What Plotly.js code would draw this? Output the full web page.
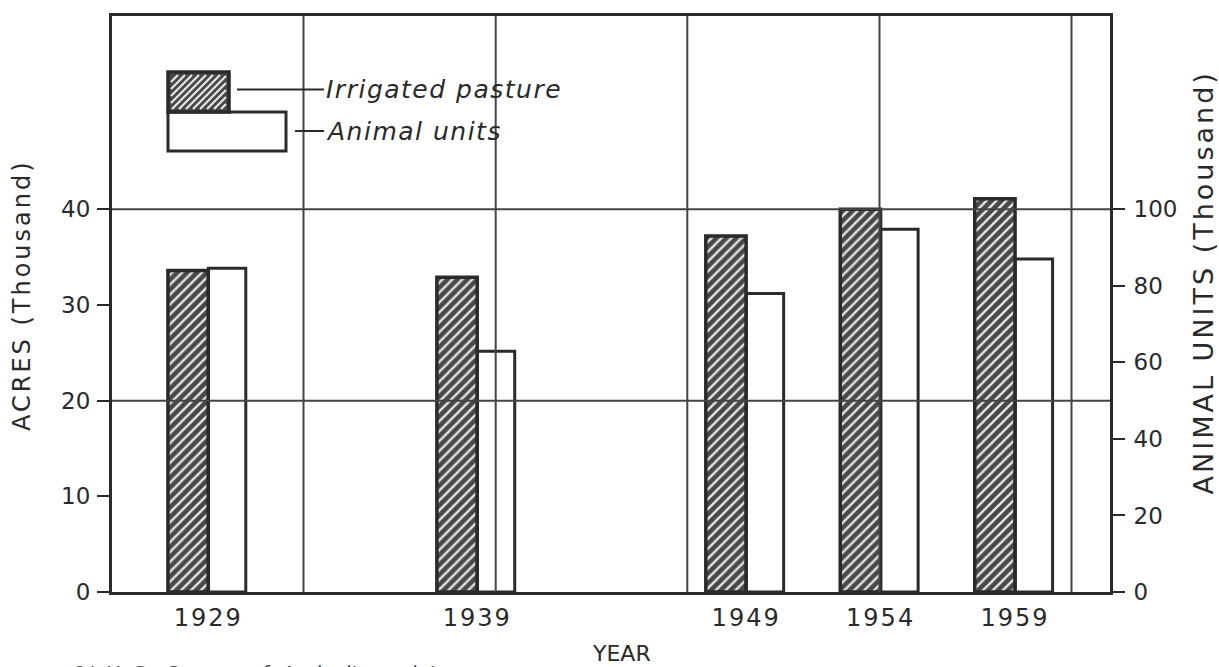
<!DOCTYPE html>
<html>
<head>
<meta charset="utf-8">
<script src="https://cdn.plot.ly/plotly-3.0.1.min.js"></script>
<style>
  html, body { margin: 0; padding: 0; background: #fff; }
  #chart { width: 1219px; height: 667px; }
  .xtick text { letter-spacing: 2px; }
</style>
</head>
<body>
<div id="chart"></div>
<script>
// ---- Data ----
const years = [1929, 1939, 1949, 1954, 1959];
const yearLabels = ["1929", "1939", "1949", "1954", "1959"];
const pastureAcres = [33.6, 32.9, 37.2, 40.0, 41.1];      // thousand acres (left axis)
const animalUnits = [84.6, 62.9, 78.0, 94.8, 87.0];       // thousand animal units (right axis)
const leftTicks = [0, 10, 20, 30, 40];
const rightTicks = [0, 20, 40, 60, 80, 100];
const hGrid = [20, 40];                                    // acres gridlines

// ---- Styling / layout constants ----
const W = 1219, H = 667;
const M = { l: 112, r: 109, t: 16, b: 75 };
const PW = W - M.l - M.r, PH = H - M.t - M.b;
const ink = '#2a2a2a';
const font = 'DejaVu Sans, Verdana, sans-serif';
const barW = 1.5;

const px2x = p => (p - M.l) / PW;
const px2y = p => (H - M.b - p) / PH;

const traces = [
  {
    type: 'bar', name: 'Irrigated pasture',
    x: years, y: pastureAcres, yaxis: 'y',
    width: barW, offset: -barW,
    marker: {
      color: '#4a4a4a',
      line: { color: ink, width: 3.5 },
      pattern: { shape: '/', fgcolor: '#e6e6e6', bgcolor: '#484848', size: 7, solidity: 0.33, fillmode: 'replace' }
    },
    hoverinfo: 'skip'
  },
  {
    type: 'bar', name: 'Animal units',
    x: years, y: animalUnits, yaxis: 'y2',
    width: barW * 0.93, offset: 0,
    marker: { color: 'rgba(255,255,255,0)', line: { color: ink, width: 3 } },
    hoverinfo: 'skip'
  }
];

const shapes = [];
// vertical grid lines (decorative, paper coordinates)
[303.5, 495.7, 687.3, 879.5, 1071.5].forEach(p => {
  shapes.push({ type: 'line', xref: 'paper', yref: 'paper', x0: px2x(p), x1: px2x(p), y0: 0, y1: 1,
    line: { color: '#444', width: 2 }, layer: 'above' });
});
hGrid.forEach(v => {
  shapes.push({ type: 'line', xref: 'paper', yref: 'y', x0: 0, x1: 1, y0: v, y1: v,
    line: { color: '#444', width: 2 }, layer: 'above' });
});

// legend swatches
const hb = { x0: 168, x1: 229, y0: 72, y1: 112 };
const wb = { x0: 168, x1: 286, y0: 112, y1: 151 };
shapes.push({ type: 'rect', xref: 'paper', yref: 'paper', x0: px2x(wb.x0), x1: px2x(wb.x1), y0: px2y(wb.y1), y1: px2y(wb.y0),
  fillcolor: '#fff', line: { color: ink, width: 3 }, layer: 'above' });
shapes.push({ type: 'rect', xref: 'paper', yref: 'paper', x0: px2x(hb.x0), x1: px2x(hb.x1), y0: px2y(hb.y1), y1: px2y(hb.y0),
  fillcolor: '#484848', line: { color: ink, width: 3.5 }, layer: 'above' });
// hatch lines inside hatched swatch
(function () {
  const pad = 3, bx0 = hb.x0 + pad, bx1 = hb.x1 - pad, by0 = hb.y0 + pad, by1 = hb.y1 - pad;
  const h = by1 - by0;
  let d = '';
  for (let s = bx0 - h; s < bx1; s += 7) {
    let xa = s, ya = by1, xb = s + h, yb = by0;
    if (xa < bx0) { ya -= (bx0 - xa); xa = bx0; }
    if (xb > bx1) { yb += (xb - bx1); xb = bx1; }
    if (xa >= xb) continue;
    d += `M${px2x(xa)},${px2y(ya)} L${px2x(xb)},${px2y(yb)} `;
  }
  shapes.push({ type: 'path', xref: 'paper', yref: 'paper', path: d, line: { color: '#e6e6e6', width: 2.2 }, layer: 'above' });
})();
// leader lines
shapes.push({ type: 'line', xref: 'paper', yref: 'paper', x0: px2x(237), x1: px2x(324), y0: px2y(89.5), y1: px2y(89.5),
  line: { color: ink, width: 2 }, layer: 'above' });
shapes.push({ type: 'line', xref: 'paper', yref: 'paper', x0: px2x(295), x1: px2x(324), y0: px2y(131), y1: px2y(131),
  line: { color: ink, width: 2 }, layer: 'above' });

const annotations = [
  { xref: 'paper', yref: 'paper', x: px2x(324), y: px2y(89.5), xanchor: 'left', yanchor: 'middle', showarrow: false,
    text: 'Irrigated pasture', font: { family: font, size: 25, style: 'italic', color: ink } },
  { xref: 'paper', yref: 'paper', x: px2x(324), y: px2y(131), xanchor: 'left', yanchor: 'middle', showarrow: false,
    text: 'Animal units', font: { family: font, size: 25, style: 'italic', color: ink } },
  { xref: 'paper', yref: 'paper', x: px2x(22), y: px2y(295), xanchor: 'center', yanchor: 'middle', showarrow: false,
    textangle: -90, text: 'ACRES (Thousand)', font: { family: font, size: 24, color: ink } },
  { xref: 'paper', yref: 'paper', x: px2x(1203), y: px2y(283), xanchor: 'center', yanchor: 'middle', showarrow: false,
    textangle: -90, text: 'ANIMAL UNITS (Thousand)', font: { family: font, size: 27, color: ink } },
  { xref: 'paper', yref: 'paper', x: px2x(621), y: px2y(653), xanchor: 'center', yanchor: 'middle', showarrow: false,
    text: 'YEAR', font: { family: font, size: 22, color: ink } },
  { xref: 'paper', yref: 'paper', x: px2x(72), y: px2y(659), xanchor: 'left', yanchor: 'top', showarrow: false,
    text: '1/  U. S.  Census  of  Agriculture  data', font: { family: font, size: 20, color: '#555' } }
];

const axisCommon = { zeroline: false, showgrid: false, linecolor: ink, linewidth: 3, fixedrange: true };

const layout = {
  width: W, height: H,
  margin: M,
  paper_bgcolor: '#fff', plot_bgcolor: '#fff',
  showlegend: false,
  barmode: 'overlay',
  font: { family: font, color: ink },
  xaxis: Object.assign({}, axisCommon, {
    range: [1925.42, 1962.53], tickmode: 'array', tickvals: years, ticktext: yearLabels,
    showline: true, mirror: true, ticks: '', tickfont: { size: 24, color: ink }, ticklabelstandoff: 2
  }),
  yaxis: Object.assign({}, axisCommon, {
    range: [0, 60.2], tickmode: 'array', tickvals: leftTicks, showline: true, mirror: true,
    ticks: 'outside', ticklen: 12, tickwidth: 2, tickcolor: ink, tickfont: { size: 23, color: ink }, ticklabelstandoff: 2
  }),
  yaxis2: Object.assign({}, axisCommon, {
    overlaying: 'y', side: 'right', range: [0, 150.5], tickmode: 'array', tickvals: rightTicks, showline: true,
    ticks: 'outside', ticklen: 12, tickwidth: 2, tickcolor: ink, tickfont: { size: 23, color: ink }, ticklabelstandoff: 4
  }),
  shapes: shapes,
  annotations: annotations
};

Plotly.newPlot('chart', traces, layout, { displayModeBar: false, staticPlot: true }).then(() => {
  document.querySelectorAll('.annotation-text').forEach(t => {
    const s = t.textContent;
    if (s.indexOf('Thousand') >= 0) t.style.letterSpacing = '3px';
    if (s.indexOf('Irrigated') >= 0 || s.indexOf('Animal units') >= 0) {
      // widen spacing but keep the left edge where Plotly put it
      const before = t.getBBox();
      t.style.letterSpacing = '1.5px';
      const after = t.getBBox();
      const dx = before.x - after.x;
      const x0 = parseFloat(t.getAttribute('x') || '0');
      t.setAttribute('x', x0 + dx);
      t.querySelectorAll('tspan[x]').forEach(sp => sp.setAttribute('x', parseFloat(sp.getAttribute('x')) + dx));
    }
  });
});
</script>
</body>
</html>
